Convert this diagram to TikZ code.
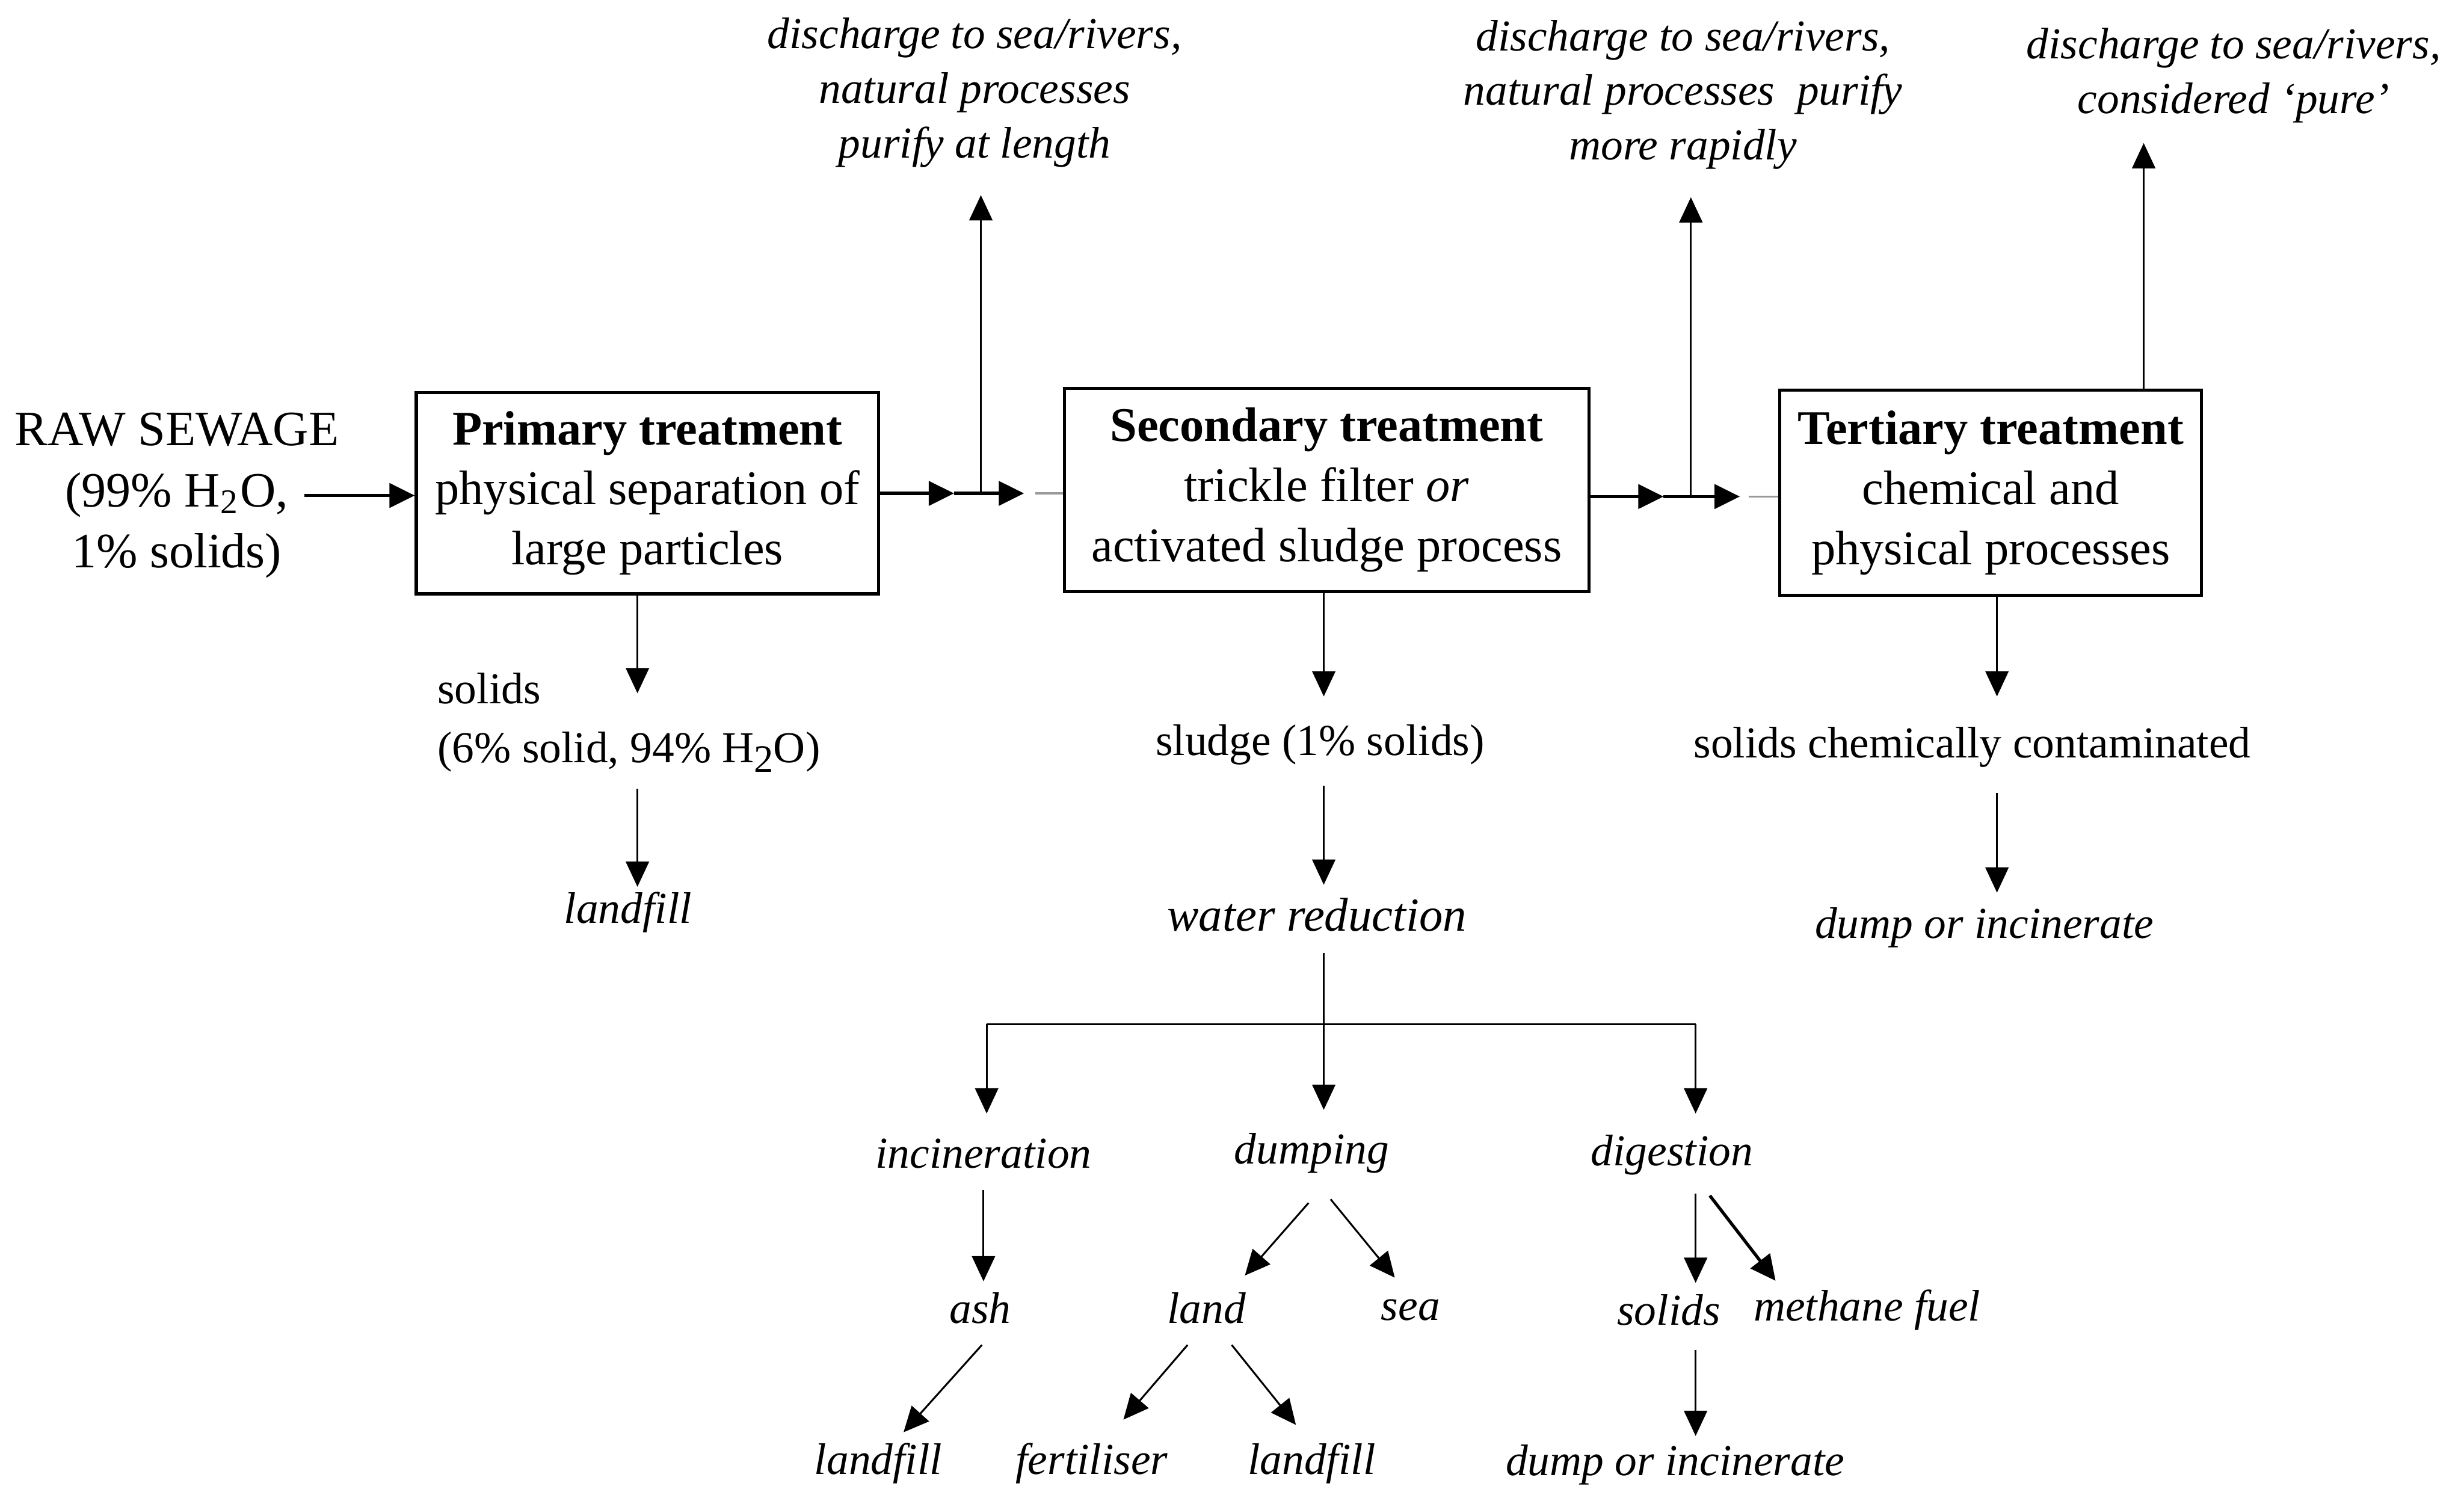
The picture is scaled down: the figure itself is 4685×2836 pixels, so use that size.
\documentclass[tikz,border=0pt]{standalone}
\usepackage{fontspec}
\setmainfont{Liberation Serif}
\usetikzlibrary{arrows.meta}
\begin{document}
\begin{tikzpicture}[x=0.1pt,y=-0.1pt,
  stage/.style={draw, line width=0.6pt, align=center, inner sep=0pt,
    font=\fontsize{9.2}{11.4}\selectfont},
  lab/.style={inner sep=0pt, align=center, font=\fontsize{8.4}{10.6}\selectfont},
  ilab/.style={inner sep=0pt, align=center, font=\fontsize{8.4}{10.4}\selectfont\itshape},
  conn/.style={-{Triangle[length=4.8pt,width=4.4pt]}, line width=0.35pt},
  thick conn/.style={-{Triangle[length=4.8pt,width=4.6pt]}, line width=0.6pt},
  flow/.style={-{Triangle[length=4.8pt,width=4.6pt]}, line width=0.6pt},
  faint/.style={line width=0.4pt, draw=black!40},
  plain/.style={line width=0.35pt},
]
\useasboundingbox (0,0) rectangle (4685,2836);

% ---------- main stages ----------
\node[font=\fontsize{9.4}{11.6}\selectfont, align=center, inner sep=0pt] (raw) at (336,942)
  {RAW SEWAGE\\(99\% H\textsubscript{2}O,\\1\% solids)};
\node[stage, minimum width=87.9pt, minimum height=38.3pt] (prim) at (1231,937.5)
  {\textbf{Primary treatment}\\physical separation of\\large particles};
\node[stage, minimum width=99.7pt, minimum height=38.7pt] (sec) at (2522.5,931.5)
  {\textbf{Secondary treatment}\\trickle filter \textit{or}\\activated sludge process};
\node[stage, minimum width=80.2pt, minimum height=39pt] (ter) at (3785,937)
  {\textbf{Tertiary treatment}\\chemical and\\physical processes};

% ---------- discharge labels ----------
\node[ilab] (dis1) at (1853,176) {discharge to sea/rivers,\\natural processes\\purify at length};
\node[ilab] (dis2) at (3200,180) {discharge to sea/rivers,\\natural processes\ \ purify\\more rapidly};
\node[ilab] (dis3) at (4247,143) {discharge to sea/rivers,\\considered ‘pure’};

% ---------- primary branch ----------
\node[lab, align=left, anchor=west, font=\fontsize{8.4}{11.2}\selectfont] (sol1) at (830,1374)
  {solids\\(6\% solid, 94\% H\raisebox{-0.45ex}{\fontsize{7.4}{8}\selectfont 2}O)};
\node[ilab] (lf1) at (1194,1735) {landfill};

% ---------- secondary branch ----------
\node[lab] (sludge) at (2510,1416) {sludge (1\% solids)};
\node[ilab, font=\fontsize{9}{11}\selectfont\itshape] (water) at (2504,1739) {water reduction};
\node[ilab] (incin) at (1870,2193) {incineration};
\node[ilab] (dump) at (2494,2193) {dumping};
\node[ilab] (dig) at (3179,2196) {digestion};
\node[ilab] (ash) at (1864,2487) {ash};
\node[ilab] (land) at (2294,2487) {land};
\node[ilab] (sea) at (2682,2491) {sea};
\node[ilab] (sol2) at (3173,2491) {solids};
\node[ilab] (meth) at (3550,2491) {methane fuel};
\node[ilab] (lf2) at (1670,2782) {landfill};
\node[ilab] (fert) at (2076,2782) {fertiliser};
\node[ilab] (lf3) at (2494,2782) {landfill};
\node[ilab] (dump2) at (3185,2785) {dump or incinerate};

% ---------- tertiary branch ----------
\node[lab] (chem) at (3750,1421) {solids chemically contaminated};
\node[ilab] (dump3) at (3773,1763) {dump or incinerate};

% ---------- connector points ----------
\coordinate (rawout) at (579,942);
\coordinate (m1) at (1814,938);
\coordinate (j1) at (1865,938);
\coordinate (m2) at (1947,938);
\coordinate (g1) at (1968,938);
\coordinate (t1) at (1865,371);
\coordinate (m3) at (3163,944);
\coordinate (j2) at (3215,944);
\coordinate (m4) at (3308,944);
\coordinate (g2) at (3325,944);
\coordinate (t2) at (3215,375);
\coordinate (t3) at (4076,272);

\coordinate (p1e) at (1212,1318);
\coordinate (p2a) at (1212,1500);
\coordinate (p2e) at (1212,1686);

\coordinate (s1e) at (2517,1324);
\coordinate (s2a) at (2517,1494);
\coordinate (s2e) at (2517,1682);
\coordinate (s3a) at (2517,1812);
\coordinate (s3e) at (2517,2110);
\coordinate (bl) at (1876,1947);
\coordinate (br) at (3224,1947);
\coordinate (ble) at (1876,2117);
\coordinate (bre) at (3224,2117);

\coordinate (iaa) at (1870,2262);
\coordinate (iae) at (1870,2436);
\coordinate (dla) at (2488,2287);
\coordinate (dle) at (2367,2425);
\coordinate (dsa) at (2530,2280);
\coordinate (dse) at (2652,2429);
\coordinate (dga) at (3224,2269);
\coordinate (dge) at (3224,2439);
\coordinate (dma) at (3251,2273);
\coordinate (dme) at (3376,2435);
\coordinate (ala) at (1867,2557);
\coordinate (ale) at (1718,2723);
\coordinate (lfa) at (2258,2557);
\coordinate (lfe) at (2136,2699);
\coordinate (lla) at (2342,2557);
\coordinate (lle) at (2464,2709);
\coordinate (sda) at (3224,2567);
\coordinate (sde) at (3224,2730);

\coordinate (c1e) at (3797,1324);
\coordinate (c2a) at (3797,1508);
\coordinate (c2e) at (3797,1697);

% ---------- main flow ----------
\draw[flow] (rawout) -- (rawout -| prim.west);
\draw[flow] (prim.east |- m1) -- (m1);
\draw[flow] (m1) -- (m2);
\draw[faint] (g1) -- (g1 -| sec.west);
\draw[conn] (j1) -- (t1);
\draw[flow] (sec.east |- m3) -- (m3);
\draw[flow] (m3) -- (m4);
\draw[faint] (g2) -- (g2 -| ter.west);
\draw[conn] (j2) -- (t2);
\draw[conn] (ter.north -| t3) -- (t3);

% ---------- primary ----------
\draw[conn] (prim.south -| p1e) -- (p1e);
\draw[conn] (p2a) -- (p2e);

% ---------- secondary ----------
\draw[conn] (sec.south -| s1e) -- (s1e);
\draw[conn] (s2a) -- (s2e);
\draw[conn] (s3a) -- (s3e);
\draw[plain] (bl) -- (br);
\draw[conn] (bl) -- (ble);
\draw[conn] (br) -- (bre);
\draw[conn] (iaa) -- (iae);
\draw[conn] (dla) -- (dle);
\draw[conn] (dsa) -- (dse);
\draw[conn] (dga) -- (dge);
\draw[thick conn] (dma) -- (dme);
\draw[conn] (ala) -- (ale);
\draw[conn] (lfa) -- (lfe);
\draw[conn] (lla) -- (lle);
\draw[conn] (sda) -- (sde);

% ---------- tertiary ----------
\draw[conn] (ter.south -| c1e) -- (c1e);
\draw[conn] (c2a) -- (c2e);
\end{tikzpicture}
\end{document}
